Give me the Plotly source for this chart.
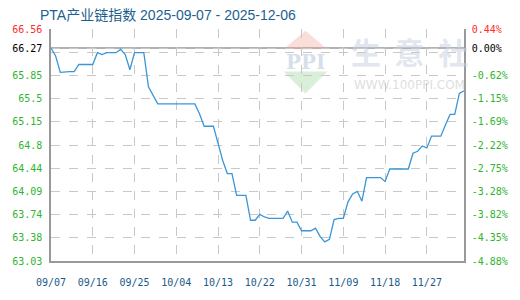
import pandas as pd
import plotly.graph_objects as go

start_date = "2025-09-07"
values = [66.27, 66.15, 65.90, 65.91, 65.91, 65.91, 66.02, 66.02, 66.02, 66.02,
          66.20, 66.17, 66.20, 66.20, 66.20, 66.25, 66.17, 65.94, 66.20, 66.20,
          66.20, 65.68, 65.55, 65.42, 65.42, 65.42, 65.42, 65.42, 65.42, 65.42,
          65.42, 65.42, 65.27, 65.08, 65.08, 65.08, 64.82, 64.56, 64.36, 64.36,
          64.03, 64.03, 64.03, 63.65, 63.65, 63.74, 63.70, 63.68, 63.68, 63.68,
          63.68, 63.79, 63.62, 63.62, 63.49, 63.49, 63.49, 63.53, 63.40, 63.32,
          63.36, 63.66, 63.68, 63.68, 63.93, 64.05, 64.09, 63.94, 64.30, 64.30,
          64.30, 64.30, 64.24, 64.43, 64.43, 64.43, 64.43, 64.43, 64.67, 64.70,
          64.78, 64.75, 64.93, 64.93, 64.93, 65.10, 65.26, 65.26, 65.58, 65.62]
dates = pd.date_range(start_date, periods=len(values), freq="D")

x_tick_dates = ["2025-09-07", "2025-09-16", "2025-09-25", "2025-10-04", "2025-10-13",
                "2025-10-22", "2025-10-31", "2025-11-09", "2025-11-18", "2025-11-27"]
x_tick_labels = ["09/07", "09/16", "09/25", "10/04", "10/13",
                 "10/22", "10/31", "11/09", "11/18", "11/27"]

base_value = 66.27
y_min, y_max = 63.03, 66.56
left_labels = ["66.56", "66.27", "65.85", "65.5", "65.15", "64.8",
               "64.44", "64.09", "63.74", "63.38", "63.03"]
right_labels = ["0.44%", "0.00%", "-0.62%", "-1.15%", "-1.69%", "-2.22%",
                "-2.75%", "-3.28%", "-3.82%", "-4.35%", "-4.88%"]

step = (y_max - y_min) / 10
grid_levels = [y_max - i * step for i in range(11)]
tick_pos = [grid_levels[0], base_value] + grid_levels[2:]

def colored(labels):
    out = []
    for i, t in enumerate(labels):
        c = "#ff2a2a" if i == 0 else ("#000000" if i == 1 else "#2fb52f")
        out.append(f'<span style="color:{c}">{t}</span>')
    return out

title_text = "PTA产业链指数 2025-09-07 - 2025-12-06"

fig = go.Figure()
fig.add_trace(go.Scatter(x=dates, y=values, mode="lines",
                         line=dict(color="#3a96d6", width=1.3),
                         hoverinfo="skip", showlegend=False))
# invisible trace to activate right axis
fig.add_trace(go.Scatter(x=dates[:1], y=values[:1], yaxis="y2", mode="lines",
                         line=dict(width=0), hoverinfo="skip", showlegend=False))

tick_font = dict(family="DejaVu Sans Mono", size=10)

fig.update_layout(
    width=520, height=300,
    margin=dict(l=40, r=50, t=29, b=30),
    paper_bgcolor="white", plot_bgcolor="white",
    title=dict(text=title_text, x=40 / 520, xanchor="left",
               y=1 - 15 / 300, yanchor="middle",
               font=dict(family="Liberation Sans, Noto Sans CJK SC", size=14, color="#1d5f8f")),
    xaxis=dict(type="date", range=[dates[0], dates[-1]],
               tickvals=x_tick_dates, ticktext=x_tick_labels,
               showgrid=True, gridcolor="#c8c8c8", griddash="dash", gridwidth=1,
               showline=True, linecolor="#999999", linewidth=1.5,
               ticks="", ticklabelstandoff=11,
               tickfont=dict(family="DejaVu Sans Mono", size=10, color="#1a5a8a"),
               zeroline=False),
    yaxis=dict(range=[y_min, y_max], tickvals=tick_pos, ticktext=colored(left_labels),
               showgrid=True, gridcolor="#c8c8c8", griddash="dash", gridwidth=1,
               minor=dict(tickvals=[grid_levels[1]], showgrid=True, gridcolor="#c8c8c8",
                          griddash="dash", gridwidth=1, ticks=""),
               showline=True, linecolor="#999999", linewidth=1.5,
               ticks="", ticklabelstandoff=5, tickfont=tick_font, zeroline=False),
    yaxis2=dict(range=[y_min, y_max], overlaying="y", side="right",
                tickvals=tick_pos, ticktext=colored(right_labels),
                showgrid=False, showline=True, linecolor="#999999", linewidth=1.5,
                ticks="", ticklabelstandoff=4, tickfont=tick_font, zeroline=False),
)

# base line at starting value
fig.add_shape(type="line", xref="paper", x0=0, x1=1, yref="y", y0=base_value, y1=base_value,
              line=dict(color="#999999", width=1.5), layer="below")

# watermark
fig.add_shape(type="path", xref="paper", yref="paper",
              path="M 0.616 0.992 L 0.563 0.913 L 0.669 0.913 Z",
              fillcolor="rgba(240,160,150,0.35)", line=dict(width=0), layer="below")
fig.add_shape(type="path", xref="paper", yref="paper",
              path="M 0.563 0.817 L 0.669 0.817 L 0.616 0.722 Z",
              fillcolor="rgba(150,210,150,0.35)", line=dict(width=0), layer="below")
fig.add_annotation(text="<b>PPI</b>", xref="paper", yref="paper", x=0.616, y=0.857,
                   xanchor="center", yanchor="middle",
                   showarrow=False, font=dict(family="DejaVu Serif", size=20,
                                              color="rgba(180,190,215,0.5)"))
fig.add_annotation(text="<b>生  意  社</b>", xref="paper", yref="paper", x=0.869, y=0.905,
                   xanchor="center", yanchor="middle",
                   showarrow=False, font=dict(family="Noto Sans CJK SC", size=30,
                                              color="rgba(200,208,225,0.55)"))
fig.add_annotation(text="WWW.100PPI.COM", xref="paper", yref="paper", x=0.869, y=0.76,
                   xanchor="center", yanchor="middle",
                   showarrow=False, font=dict(family="DejaVu Sans", size=12,
                                              color="rgba(200,200,200,0.6)"))

fig.write_html("out.html")
